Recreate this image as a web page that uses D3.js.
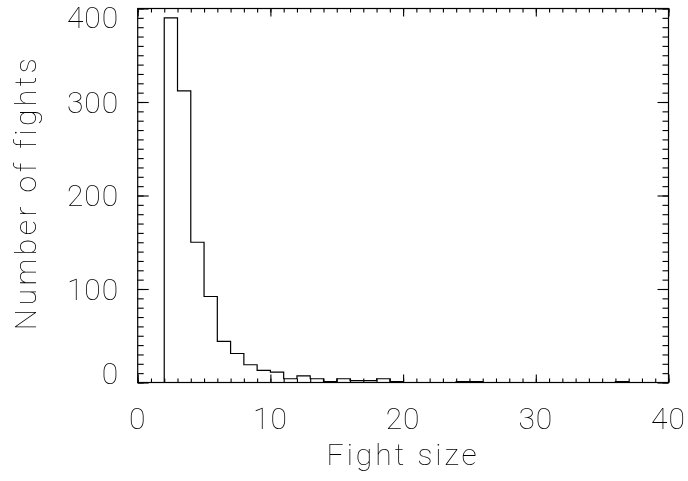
<!DOCTYPE html>
<html>
<head>
<meta charset="utf-8">
<script src="https://cdn.jsdelivr.net/npm/d3@7"></script>
<style>
  html, body { margin: 0; padding: 0; background: #fff; }
  svg { display: block; filter: grayscale(100%); }
  text { font-family: Roboto, "Open Sans", sans-serif; font-weight: 100; fill: #000; }
</style>
</head>
<body>
<svg id="chart" width="688" height="481"></svg>
<script>
// ---- data ----
const binStarts = [2,3,4,5,6,7,8,9,10,11,12,13,14,15,16,17,18,19,20,21,22,23,24,25,26,27,28,29,30,31,32,33,34,35,36,37,38,39];
const counts    = [390,312,150,92,44,31,19,13,11,4,7,4,1,4,2,2,4,1,0,0,0,0,1,1,0,0,0,0,0,0,0,0,0,0,1,0,0,0];
const binWidth = 1;
const xTicks = [0,10,20,30,40];
const yTicks = [0,100,200,300,400];
const xTitle = "Fight size";
const yTitle = "Number of fights";

// ---- layout ----
const pLeft = 137.7, pRight = 668.5, pTop = 8.5, pBottom = 382.5;
const svg = d3.select("#chart");

const x = d3.scaleLinear().domain([0, 40]).range([pLeft, pRight]);
const y = d3.scaleLinear().domain([0, 400]).range([pBottom, pTop]);

const stroke = "#000";

// frame
svg.append("rect")
  .attr("x", pLeft).attr("y", pTop)
  .attr("width", pRight - pLeft).attr("height", pBottom - pTop)
  .attr("fill", "none").attr("stroke", stroke).attr("stroke-width", 1.2);

const xMinor = d3.range(0, 41, 1);
const yMinor = d3.range(0, 401, 10);

function drawAxis(axis, transform) {
  const g = svg.append("g").attr("transform", transform).call(axis);
  g.select(".domain").remove();
  g.selectAll(".tick line").attr("stroke", stroke).attr("stroke-width", 1.1);
  g.selectAll(".tick text").remove();
  return g;
}
// bottom & top minor/major ticks (pointing inward)
drawAxis(d3.axisBottom(x).tickValues(xMinor).tickSize(-4).tickFormat(""), `translate(0,${pBottom})`);
drawAxis(d3.axisBottom(x).tickValues(xTicks).tickSize(-8).tickFormat(""), `translate(0,${pBottom})`);
drawAxis(d3.axisTop(x).tickValues(xMinor).tickSize(-4).tickFormat(""), `translate(0,${pTop})`);
drawAxis(d3.axisTop(x).tickValues(xTicks).tickSize(-8).tickFormat(""), `translate(0,${pTop})`);
// left & right
drawAxis(d3.axisLeft(y).tickValues(yMinor).tickSize(-6).tickFormat(""), `translate(${pLeft},0)`);
drawAxis(d3.axisLeft(y).tickValues(yTicks).tickSize(-11).tickFormat(""), `translate(${pLeft},0)`);
drawAxis(d3.axisRight(y).tickValues(yMinor).tickSize(-6).tickFormat(""), `translate(${pRight},0)`);
drawAxis(d3.axisRight(y).tickValues(yTicks).tickSize(-11).tickFormat(""), `translate(${pRight},0)`);

// tick labels
const fs = 30;
const capHalf = fs * 0.711 / 2;
svg.append("g").selectAll("text").data(xTicks).join("text")
  .attr("x", d => x(d)).attr("y", 418 + capHalf)
  .attr("text-anchor", "middle").attr("font-size", fs)
  .attr("letter-spacing", 1)
  .text(d => d);

svg.append("g").selectAll("text").data(yTicks).join("text")
  .attr("x", pLeft - 18.5)
  .attr("y", d => Math.min(pBottom - 9, Math.max(pTop + 9, y(d))) + capHalf)
  .attr("text-anchor", "end").attr("font-size", fs)
  .attr("letter-spacing", 1)
  .text(d => d);

// titles
svg.append("text")
  .attr("x", (pLeft + pRight) / 2).attr("y", 465)
  .attr("text-anchor", "middle").attr("font-size", fs)
  .attr("letter-spacing", 3)
  .text(xTitle);

svg.append("text")
  .attr("transform", `translate(36,${(pTop + pBottom) / 2 - 3}) rotate(-90)`)
  .attr("text-anchor", "middle").attr("font-size", fs)
  .attr("letter-spacing", 3.5)
  .text(yTitle);

// histogram (step line)
const pts = [[binStarts[0], 0]];
binStarts.forEach((b, i) => pts.push([b, counts[i]]));
pts.push([binStarts[binStarts.length - 1] + binWidth, counts[counts.length - 1]]);
const line = d3.line().x(d => x(d[0])).y(d => y(d[1])).curve(d3.curveStepAfter);
svg.append("path")
  .attr("d", line(pts))
  .attr("fill", "none").attr("stroke", stroke).attr("stroke-width", 1.2);
</script>
</body>
</html>
